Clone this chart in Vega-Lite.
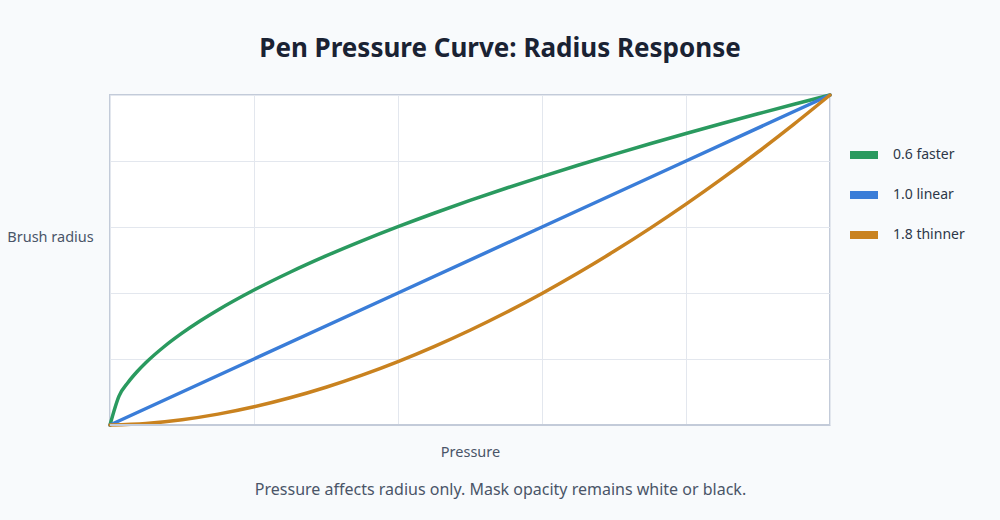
{
  "$schema": "https://vega.github.io/schema/vega-lite/v6.json",
  "width": 720,
  "height": 330,
  "autosize": {"type": "none"},
  "padding": {"left": 110, "top": 95, "right": 170, "bottom": 95},
  "background": "#f8fafc",
  "title": {
    "text": "Pen Pressure Curve: Radius Response",
    "anchor": "middle",
    "dx": 30,
    "offset": 31,
    "fontSize": 26,
    "fontWeight": "bold",
    "font": "Noto Sans",
    "color": "#1a2233"
  },
  "config": {
    "view": {"fill": "#ffffff", "stroke": "#c3cbd9", "strokeWidth": 2},
    "font": "Noto Sans"
  },
  "datasets": {
    "curves": [
      {"pressure": 0, "radius": 0, "curve": "0.6 faster"},
      {"pressure": 0.0125, "radius": 0.0876, "curve": "0.6 faster"},
      {"pressure": 0.025, "radius": 0.1288, "curve": "0.6 faster"},
      {"pressure": 0.0375, "radius": 0.1613, "curve": "0.6 faster"},
      {"pressure": 0.05, "radius": 0.1893, "curve": "0.6 faster"},
      {"pressure": 0.075, "radius": 0.2371, "curve": "0.6 faster"},
      {"pressure": 0.1, "radius": 0.2782, "curve": "0.6 faster"},
      {"pressure": 0.125, "radius": 0.315, "curve": "0.6 faster"},
      {"pressure": 0.15, "radius": 0.3485, "curve": "0.6 faster"},
      {"pressure": 0.2, "radius": 0.4089, "curve": "0.6 faster"},
      {"pressure": 0.25, "radius": 0.4629, "curve": "0.6 faster"},
      {"pressure": 0.3, "radius": 0.5123, "curve": "0.6 faster"},
      {"pressure": 0.35, "radius": 0.558, "curve": "0.6 faster"},
      {"pressure": 0.4, "radius": 0.601, "curve": "0.6 faster"},
      {"pressure": 0.45, "radius": 0.6417, "curve": "0.6 faster"},
      {"pressure": 0.5, "radius": 0.6804, "curve": "0.6 faster"},
      {"pressure": 0.55, "radius": 0.7174, "curve": "0.6 faster"},
      {"pressure": 0.6, "radius": 0.7529, "curve": "0.6 faster"},
      {"pressure": 0.65, "radius": 0.7872, "curve": "0.6 faster"},
      {"pressure": 0.7, "radius": 0.8202, "curve": "0.6 faster"},
      {"pressure": 0.75, "radius": 0.8523, "curve": "0.6 faster"},
      {"pressure": 0.8, "radius": 0.8834, "curve": "0.6 faster"},
      {"pressure": 0.85, "radius": 0.9137, "curve": "0.6 faster"},
      {"pressure": 0.9, "radius": 0.9431, "curve": "0.6 faster"},
      {"pressure": 0.95, "radius": 0.9719, "curve": "0.6 faster"},
      {"pressure": 1, "radius": 1, "curve": "0.6 faster"},
      {"pressure": 0, "radius": 0, "curve": "1.0 linear"},
      {"pressure": 0.2, "radius": 0.2, "curve": "1.0 linear"},
      {"pressure": 0.4, "radius": 0.4, "curve": "1.0 linear"},
      {"pressure": 0.6, "radius": 0.6, "curve": "1.0 linear"},
      {"pressure": 0.8, "radius": 0.8, "curve": "1.0 linear"},
      {"pressure": 1, "radius": 1, "curve": "1.0 linear"},
      {"pressure": 0, "radius": 0, "curve": "1.8 thinner"},
      {"pressure": 0.05, "radius": 0.0046, "curve": "1.8 thinner"},
      {"pressure": 0.1, "radius": 0.0159, "curve": "1.8 thinner"},
      {"pressure": 0.15, "radius": 0.0329, "curve": "1.8 thinner"},
      {"pressure": 0.2, "radius": 0.0552, "curve": "1.8 thinner"},
      {"pressure": 0.25, "radius": 0.0825, "curve": "1.8 thinner"},
      {"pressure": 0.3, "radius": 0.1145, "curve": "1.8 thinner"},
      {"pressure": 0.35, "radius": 0.1511, "curve": "1.8 thinner"},
      {"pressure": 0.4, "radius": 0.1922, "curve": "1.8 thinner"},
      {"pressure": 0.45, "radius": 0.2376, "curve": "1.8 thinner"},
      {"pressure": 0.5, "radius": 0.2872, "curve": "1.8 thinner"},
      {"pressure": 0.55, "radius": 0.3409, "curve": "1.8 thinner"},
      {"pressure": 0.6, "radius": 0.3987, "curve": "1.8 thinner"},
      {"pressure": 0.65, "radius": 0.4605, "curve": "1.8 thinner"},
      {"pressure": 0.7, "radius": 0.5262, "curve": "1.8 thinner"},
      {"pressure": 0.75, "radius": 0.5958, "curve": "1.8 thinner"},
      {"pressure": 0.8, "radius": 0.6692, "curve": "1.8 thinner"},
      {"pressure": 0.85, "radius": 0.7464, "curve": "1.8 thinner"},
      {"pressure": 0.9, "radius": 0.8273, "curve": "1.8 thinner"},
      {"pressure": 0.95, "radius": 0.9118, "curve": "1.8 thinner"},
      {"pressure": 1, "radius": 1, "curve": "1.8 thinner"}
    ],
    "baseline": [{"base": 0}]
  },
  "layer": [
    {
      "data": {"name": "curves"},
      "mark": {"type": "line", "strokeWidth": 3.5, "strokeJoin": "round", "strokeCap": "round", "interpolate": "monotone"},
      "encoding": {
        "x": {
          "field": "pressure",
          "type": "quantitative",
          "scale": {"domain": [0, 1], "nice": false, "zero": false},
          "axis": {
            "title": "Pressure",
            "values": [0, 0.2, 0.4, 0.6, 0.8, 1],
            "labels": false,
            "ticks": false,
            "domain": false,
            "grid": true,
            "gridColor": "#e3e7ee",
            "gridWidth": 1,
            "titleX": 360,
            "titleY": 27,
            "titleAlign": "center",
            "titleBaseline": "middle",
            "titleFont": "Noto Sans",
            "titleFontSize": 14.5,
            "titleFontWeight": "normal",
            "titleColor": "#4a5568"
          }
        },
        "y": {
          "field": "radius",
          "type": "quantitative",
          "scale": {"domain": [0, 1], "nice": false},
          "axis": {
            "title": "Brush radius",
            "values": [0, 0.2, 0.4, 0.6, 0.8, 1],
            "labels": false,
            "ticks": false,
            "domain": false,
            "grid": true,
            "gridColor": "#e3e7ee",
            "gridWidth": 1,
            "titleAngle": 0,
            "titleX": -60,
            "titleY": 142,
            "titleAlign": "center",
            "titleBaseline": "middle",
            "titleFont": "Noto Sans",
            "titleFontSize": 14.5,
            "titleFontWeight": "normal",
            "titleColor": "#4a5568"
          }
        },
        "color": {
          "field": "curve",
          "type": "nominal",
          "scale": {
            "domain": ["0.6 faster", "1.0 linear", "1.8 thinner"],
            "range": ["#2a9a5f", "#3a7dd8", "#c9821f"]
          },
          "legend": {
            "title": null,
            "orient": "none",
            "legendX": 736,
            "legendY": 42,
            "padding": 0,
            "symbolType": "stroke",
            "symbolSize": 784,
            "symbolStrokeWidth": 8,
            "rowPadding": 6,
            "labelOffset": 11,
            "labelFont": "Noto Sans",
            "labelFontSize": 14,
            "labelColor": "#2d3748"
          }
        }
      }
    },
    {
      "data": {"name": "baseline"},
      "mark": {"type": "rule", "color": "#c3cbd9", "strokeWidth": 2},
      "encoding": {
        "y": {
          "field": "base",
          "type": "quantitative",
          "scale": {"domain": [0, 1], "nice": false},
          "axis": {
            "orient": "right",
            "title": "Pressure affects radius only. Mask opacity remains white or black.",
            "labels": false,
            "ticks": false,
            "domain": false,
            "grid": false,
            "titleAngle": 0,
            "titleX": -330,
            "titleY": 394,
            "titleAlign": "center",
            "titleBaseline": "middle",
            "titleFont": "Noto Sans",
            "titleFontSize": 16,
            "titleFontWeight": "normal",
            "titleColor": "#4a5568"
          }
        }
      }
    }
  ],
  "resolve": {"scale": {"y": "independent"}}
}
